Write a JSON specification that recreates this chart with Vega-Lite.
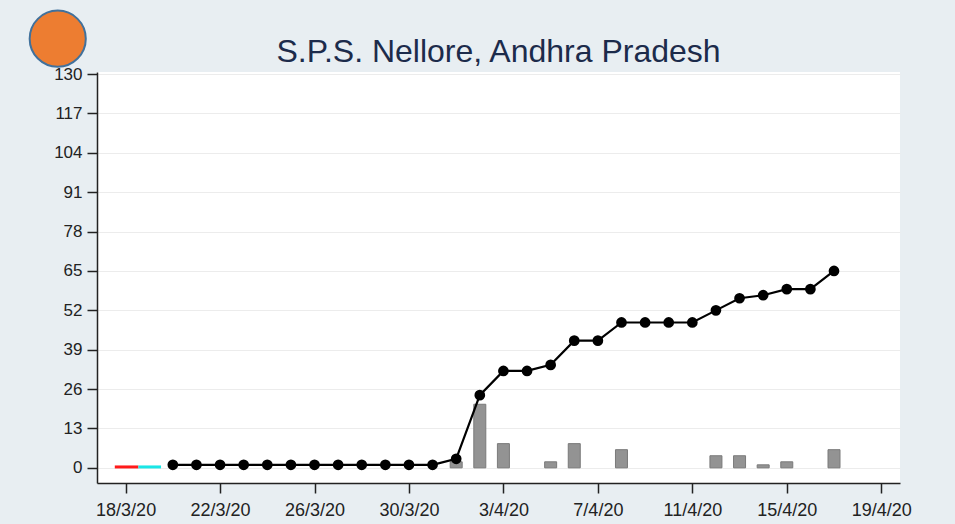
{
  "$schema": "https://vega.github.io/schema/vega-lite/v6.json",
  "width": 803,
  "height": 411,
  "autosize": {"type": "none"},
  "padding": {"left": 97, "top": 72, "right": 55, "bottom": 41},
  "background": "#e8eef2",
  "title": {
    "text": "S.P.S. Nellore, Andhra Pradesh",
    "font": "Liberation Sans",
    "fontSize": 32,
    "fontWeight": "normal",
    "color": "#1c2b4b",
    "anchor": "middle",
    "offset": 10,
    "dy": 72
  },
  "config": {
    "view": {"fill": "white", "stroke": null},
    "axis": {
      "labelFont": "Liberation Sans",
      "labelFontSize": 17,
      "labelColor": "#222222",
      "domainColor": "#222222",
      "domainWidth": 1.5,
      "tickColor": "#222222",
      "tickWidth": 1.5,
      "tickSize": 10,
      "title": null
    }
  },
  "datasets": {
    "cases": [
      {"date": "2020-03-20", "total": 1, "new": 0},
      {"date": "2020-03-21", "total": 1, "new": 0},
      {"date": "2020-03-22", "total": 1, "new": 0},
      {"date": "2020-03-23", "total": 1, "new": 0},
      {"date": "2020-03-24", "total": 1, "new": 0},
      {"date": "2020-03-25", "total": 1, "new": 0},
      {"date": "2020-03-26", "total": 1, "new": 0},
      {"date": "2020-03-27", "total": 1, "new": 0},
      {"date": "2020-03-28", "total": 1, "new": 0},
      {"date": "2020-03-29", "total": 1, "new": 0},
      {"date": "2020-03-30", "total": 1, "new": 0},
      {"date": "2020-03-31", "total": 1, "new": 0},
      {"date": "2020-04-01", "total": 3, "new": 2},
      {"date": "2020-04-02", "total": 24, "new": 21},
      {"date": "2020-04-03", "total": 32, "new": 8},
      {"date": "2020-04-04", "total": 32, "new": 0},
      {"date": "2020-04-05", "total": 34, "new": 2},
      {"date": "2020-04-06", "total": 42, "new": 8},
      {"date": "2020-04-07", "total": 42, "new": 0},
      {"date": "2020-04-08", "total": 48, "new": 6},
      {"date": "2020-04-09", "total": 48, "new": 0},
      {"date": "2020-04-10", "total": 48, "new": 0},
      {"date": "2020-04-11", "total": 48, "new": 0},
      {"date": "2020-04-12", "total": 52, "new": 4},
      {"date": "2020-04-13", "total": 56, "new": 4},
      {"date": "2020-04-14", "total": 57, "new": 1},
      {"date": "2020-04-15", "total": 59, "new": 2},
      {"date": "2020-04-16", "total": 59, "new": 0},
      {"date": "2020-04-17", "total": 65, "new": 6}
    ],
    "segments": [
      {"series": "a", "start": "2020-03-17T13:00:00Z", "end": "2020-03-18T13:00:00Z", "value": 0.3},
      {"series": "b", "start": "2020-03-18T13:00:00Z", "end": "2020-03-19T12:00:00Z", "value": 0.3}
    ]
  },
  "layer": [
    {
      "data": {"name": "cases"},
      "transform": [{"filter": "datum.new > 0"}],
      "mark": {"type": "bar", "width": 12, "fill": "#939393", "stroke": "#7a7a7a", "strokeWidth": 1},
      "encoding": {
        "x": {
          "field": "date",
          "type": "temporal",
          "scale": {
            "type": "utc",
            "domain": [
              {"year": 2020, "month": 3, "date": 17, "utc": true},
              {"year": 2020, "month": 4, "date": 19, "hours": 14, "utc": true}
            ]
          },
          "axis": {
            "values": [
              {"year": 2020, "month": 3, "date": 18, "utc": true},
              {"year": 2020, "month": 3, "date": 22, "utc": true},
              {"year": 2020, "month": 3, "date": 26, "utc": true},
              {"year": 2020, "month": 3, "date": 30, "utc": true},
              {"year": 2020, "month": 4, "date": 3, "utc": true},
              {"year": 2020, "month": 4, "date": 7, "utc": true},
              {"year": 2020, "month": 4, "date": 11, "utc": true},
              {"year": 2020, "month": 4, "date": 15, "utc": true},
              {"year": 2020, "month": 4, "date": 19, "utc": true}
            ],
            "labelExpr": "utcFormat(datum.value, '%-d/%-m/%y')",
            "labelFontSize": 18,
            "grid": false,
            "labelPadding": 8
          }
        },
        "y": {
          "field": "new",
          "type": "quantitative",
          "scale": {"domain": [-5, 130.7], "nice": false, "zero": false},
          "axis": {
            "values": [0, 13, 26, 39, 52, 65, 78, 91, 104, 117, 130],
            "grid": true,
            "gridColor": "#ececec",
            "gridWidth": 1,
            "labelPadding": 5
          }
        }
      }
    },
    {
      "data": {"name": "cases"},
      "mark": {
        "type": "line",
        "color": "black",
        "strokeWidth": 2.2,
        "point": {"filled": true, "size": 115, "color": "black"}
      },
      "encoding": {
        "x": {"field": "date", "type": "temporal"},
        "y": {"field": "total", "type": "quantitative"}
      }
    },
    {
      "data": {"name": "segments"},
      "mark": {"type": "rule", "strokeWidth": 3},
      "encoding": {
        "x": {"field": "start", "type": "temporal"},
        "x2": {"field": "end"},
        "y": {"field": "value", "type": "quantitative"},
        "color": {
          "field": "series",
          "type": "nominal",
          "scale": {"domain": ["a", "b"], "range": ["#ff1a1a", "#19e6e6"]},
          "legend": null
        }
      }
    },
    {
      "data": {"values": [{}]},
      "mark": {
        "type": "point",
        "filled": true,
        "fill": "#ed7d31",
        "stroke": "#41719c",
        "strokeWidth": 2,
        "opacity": 1,
        "fillOpacity": 1,
        "size": 3150
      },
      "encoding": {
        "x": {"datum": {"year": 2020, "month": 3, "date": 15, "hours": 3, "utc": true}, "type": "temporal"},
        "y": {"datum": 141.7, "type": "quantitative"}
      }
    }
  ]
}
